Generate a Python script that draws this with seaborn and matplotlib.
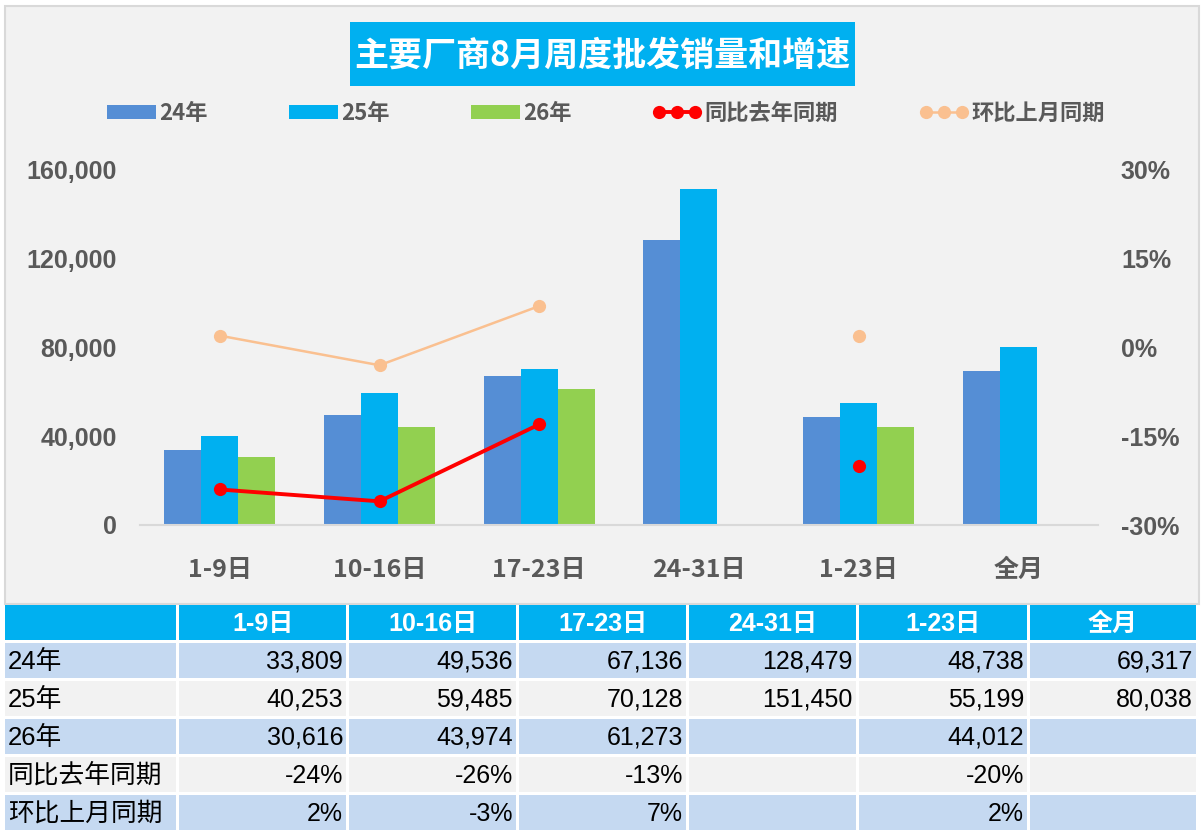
import matplotlib

matplotlib.use("Agg")
import matplotlib.pyplot as plt  # noqa: E402
import pandas as pd  # noqa: E402
import seaborn as sns  # noqa: E402
from matplotlib.lines import Line2D  # noqa: E402
from matplotlib.patches import Patch, Rectangle  # noqa: E402

# ---- data ----
periods = ["1-9日", "10-16日", "17-23日", "24-31日", "1-23日", "全月"]
years = ["24年", "25年", "26年"]
sales_24 = [33809, 49536, 67136, 128479, 48738, 69317]
sales_25 = [40253, 59485, 70128, 151450, 55199, 80038]
sales_26 = [30616, 43974, 61273, None, 44012, None]
yoy = [-0.24, -0.26, -0.13, None, -0.20, None]
mom = [0.02, -0.03, 0.07, None, 0.02, None]
yoy_label = "同比去年同期"
mom_label = "环比上月同期"
title = "主要厂商8月周度批发销量和增速"

bar_colors = ["#558ED5", "#00B0F0", "#92D050"]
yoy_color = "#FF0000"
mom_color = "#FAC090"
grey_txt = "#595959"

sns.set_style("white")
CJK = ["Noto Sans CJK SC", "DejaVu Sans"]
ARIAL = ["Liberation Sans", "Noto Sans CJK SC"]
plt.rcParams["font.family"] = CJK

W, H = 1204, 838
fig = plt.figure(figsize=(W / 100, H / 100), dpi=100)
fig.patch.set_facecolor("white")


def px(x0, y0, x1, y1):
    return [x0 / W, 1 - y1 / H, (x1 - x0) / W, (y1 - y0) / H]


# background layer in pixel coords (chart panel, title box, table)
bg = fig.add_axes([0, 0, 1, 1])
bg.set_zorder(-1)
bg.set_xlim(0, W)
bg.set_ylim(H, 0)
bg.axis("off")
bg.add_patch(Rectangle((5, 6), 1194, 598, facecolor="#F2F2F2",
                       edgecolor="#D9D9D9", lw=1.5))
bg.add_patch(Rectangle((350, 22), 505, 64, facecolor="#00B0F0", edgecolor="none"))
bg.text(602.5, 55, title, ha="center", va="center", color="white",
        fontsize=24.5, fontweight="bold", family=CJK)

# ---- bars ----
rows = []
for yr, vals in zip(years, [sales_24, sales_25, sales_26]):
    for p, v in zip(periods, vals):
        if v is not None:
            rows.append({"period": p, "year": yr, "sales": v})
bars = pd.DataFrame(rows)

ax = fig.add_axes(px(140, 170, 1098, 525))
ax.patch.set_visible(False)
sns.barplot(data=bars, x="period", y="sales", hue="year", order=periods,
            hue_order=years, palette=bar_colors, width=0.695, saturation=1,
            errorbar=None, legend=False, linewidth=0, ax=ax)
ax.set_xlim(-0.5, len(periods) - 0.5)
ax.set_ylim(0, 160000)
ax.set_yticks(range(0, 160001, 40000))
ax.set_yticklabels([f"{v:,}" for v in range(0, 160001, 40000)],
                   family=ARIAL, fontweight="bold", fontsize=18, color=grey_txt)
ax.set_xticks(range(len(periods)))
ax.set_xticklabels(periods, family=CJK, fontweight="bold", fontsize=18,
                   color=grey_txt)
ax.tick_params(axis="y", length=0, pad=16.5)
ax.tick_params(axis="x", length=0, pad=24)
ax.set_xlabel("")
ax.set_ylabel("")
for side in ["top", "left", "right"]:
    ax.spines[side].set_visible(False)
ax.spines["bottom"].set_color("#D9D9D9")
ax.spines["bottom"].set_linewidth(1.5)

# ---- growth lines on the right axis ----
ax2 = ax.twinx()
lines = pd.DataFrame({"pos": range(len(periods)), "yoy": yoy, "mom": mom})
for col, color, lw in [("mom", mom_color, 1.8), ("yoy", yoy_color, 2.8)]:
    d = lines[["pos", col]].copy()
    d["seg"] = d[col].isna().cumsum()
    d = d.dropna()
    sns.lineplot(data=d, x="pos", y=col, units="seg", estimator=None,
                 sort=False, color=color, lw=lw, marker="o", markersize=9.5,
                 markeredgewidth=0, markeredgecolor=color, ax=ax2)
ax2.set_ylim(-0.3, 0.3)
pct_ticks = [-0.3, -0.15, 0, 0.15, 0.3]
ax2.set_yticks(pct_ticks)
ax2.set_yticklabels([f"{v:.0%}" for v in pct_ticks], family=ARIAL,
                    fontweight="bold", fontsize=18, color=grey_txt)
ax2.tick_params(axis="y", length=0, pad=16.5)
ax2.set_xlabel("")
ax2.set_ylabel("")
for side in ax2.spines:
    ax2.spines[side].set_visible(False)

# ---- legend ----
handles = [Patch(facecolor=c, edgecolor="none") for c in bar_colors]
handles += [
    Line2D([], [], color=yoy_color, lw=2.8, marker="o", markersize=9.5,
           markeredgewidth=0),
    Line2D([], [], color=mom_color, lw=1.8, marker="o", markersize=9.5,
           markeredgewidth=0),
]
fig.legend(handles, years + [yoy_label, mom_label], loc="center",
           bbox_to_anchor=(606 / W, 1 - 113 / H), ncol=5, frameon=False,
           numpoints=3, handlelength=2.2, handleheight=0.6, handletextpad=0.15,
           columnspacing=3.65, labelcolor=grey_txt,
           prop={"family": CJK, "weight": "bold", "size": 16})

# ---- data table ----
col_edges = [5, 179, 349, 519, 689, 859, 1030, 1199]
row_edges = [605, 643, 681, 719, 757, 795, 833]
gap = 3
table_rows = [
    ("24年", [f"{v:,}" for v in sales_24]),
    ("25年", [f"{v:,}" for v in sales_25]),
    ("26年", ["" if v is None else f"{v:,}" for v in sales_26]),
    (yoy_label, ["" if v is None else f"{v:.0%}" for v in yoy]),
    (mom_label, ["" if v is None else f"{v:.0%}" for v in mom]),
]
row_colors = ["#C5D9F1", "#F2F2F2", "#C5D9F1", "#F2F2F2", "#C5D9F1"]

y0, y1 = row_edges[0], row_edges[1]
for j in range(len(col_edges) - 1):
    x0, x1 = col_edges[j], col_edges[j + 1]
    bg.add_patch(Rectangle((x0, y0), x1 - x0 - gap, y1 - y0 - gap,
                           facecolor="#00B0F0", edgecolor="none"))
    if j > 0:
        bg.text((x0 + x1 - gap) / 2, (y0 + y1 - gap) / 2 + 1, periods[j - 1],
                ha="center", va="center", color="white", fontsize=18,
                fontweight="bold", family=ARIAL)

for i, (label, vals) in enumerate(table_rows):
    y0, y1 = row_edges[i + 1], row_edges[i + 2]
    yc = (y0 + y1 - gap) / 2 + 1
    for j in range(len(col_edges) - 1):
        x0, x1 = col_edges[j], col_edges[j + 1]
        bg.add_patch(Rectangle((x0, y0), x1 - x0 - gap, y1 - y0 - gap,
                               facecolor=row_colors[i], edgecolor="none"))
    bg.text(col_edges[0] + 3, yc, label, ha="left", va="center", color="black",
            fontsize=18.5, family=ARIAL)
    for j, s in enumerate(vals):
        bg.text(col_edges[j + 2] - gap - 3, yc, s, ha="right", va="center",
                color="black", fontsize=18, family=ARIAL)

fig.savefig("out.png", dpi=100)
